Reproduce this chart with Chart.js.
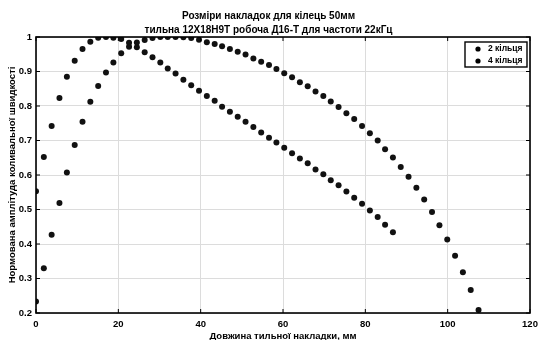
<!DOCTYPE html>
<html>
<head>
<meta charset="utf-8">
<script src="https://cdn.jsdelivr.net/npm/chart.js@4.4.1/dist/chart.umd.min.js"></script>
<style>
    html, body { margin: 0; padding: 0; background: #fff; }
    #wrap { width: 539px; height: 340px; }
</style>
</head>
<body>
<div id="wrap"><canvas id="padChart" width="539" height="340"></canvas></div>
<script>
/* ── Data ──────────────────────────────────────── */
const padLength = [0, 1.9, 3.8, 5.7, 7.5, 9.4, 11.3, 13.2, 15.1, 17.0, 18.8, 20.7, 22.6, 24.5, 26.4, 28.3, 30.2, 32.0,
    33.9, 35.8, 37.7, 39.6, 41.5, 43.4, 45.2, 47.1, 49.0, 50.9, 52.8, 54.7, 56.6, 58.4, 60.3, 62.2, 64.1, 66.0, 67.9,
    69.8, 71.6, 73.5, 75.4, 77.3, 79.2, 81.1, 83.0, 84.8, 86.7, 88.6, 90.5, 92.4, 94.3, 96.2, 98.0, 99.9, 101.8,
    103.7, 105.6, 107.5];

const ampTwoRings = [0.553, 0.652, 0.742, 0.823, 0.885, 0.931, 0.965, 0.986, 0.998, 1.0, 0.998, 0.994, 0.983, 0.970,
    0.956, 0.941, 0.926, 0.909, 0.894, 0.876, 0.860, 0.844, 0.829, 0.815, 0.798, 0.783, 0.769, 0.754, 0.739, 0.723,
    0.708, 0.694, 0.679, 0.663, 0.648, 0.634, 0.616, 0.602, 0.585, 0.570, 0.552, 0.534, 0.517, 0.497, 0.478, 0.456,
    0.434];

const ampFourRings = [0.233, 0.330, 0.427, 0.519, 0.607, 0.687, 0.754, 0.812, 0.858, 0.897, 0.926, 0.953, 0.972, 0.984,
    0.991, 0.997, 1.0, 1.0, 1.0, 0.999, 0.997, 0.992, 0.985, 0.980, 0.973, 0.965, 0.957, 0.949, 0.938, 0.928, 0.919,
    0.907, 0.895, 0.883, 0.869, 0.857, 0.842, 0.829, 0.813, 0.797, 0.779, 0.762, 0.742, 0.721, 0.700, 0.675, 0.651,
    0.623, 0.595, 0.563, 0.529, 0.493, 0.454, 0.413, 0.366, 0.318, 0.267, 0.209];

const seriesNames = ['2 кільця', '4 кільця'];
const xTicks = [0, 20, 40, 60, 80, 100, 120];
const yTicks = [0.2, 0.3, 0.4, 0.5, 0.6, 0.7, 0.8, 0.9, 1];

const titleLines = ['Розміри накладок для кілець 50мм', 'тильна 12Х18Н9Т робоча Д16-Т для частоти 22кГц'];
const xTitle = 'Довжина тильної накладки, мм';
const yTitle = 'Нормована амплітуда коливальної швидкості';

/* ── Helpers ───────────────────────────────────── */
const FONT = '"Liberation Sans", Arial, sans-serif';

function toPoints(values) {
    return values.map((v, i) => ({ x: padLength[i], y: v }));
}

// box round the axes + inward ticks, MATLAB style
const frame = {
    id: 'frame',
    afterDatasetsDraw(chart) {
        const { ctx, chartArea: a, scales } = chart;
        ctx.save();
        ctx.strokeStyle = '#000';
        ctx.lineWidth = 1.6;
        ctx.strokeRect(a.left, a.top, a.right - a.left, a.bottom - a.top);
        ctx.lineWidth = 1;
        xTicks.forEach((t) => {
            const px = scales.x.getPixelForValue(t);
            ctx.beginPath();
            ctx.moveTo(px, a.bottom); ctx.lineTo(px, a.bottom - 4);
            ctx.moveTo(px, a.top); ctx.lineTo(px, a.top + 4);
            ctx.stroke();
        });
        yTicks.forEach((t) => {
            const py = scales.y.getPixelForValue(t);
            ctx.beginPath();
            ctx.moveTo(a.left, py); ctx.lineTo(a.left + 4, py);
            ctx.moveTo(a.right, py); ctx.lineTo(a.right - 4, py);
            ctx.stroke();
        });

        // legend box in the top right corner
        const bx = a.right - 65, by = a.top + 5, bw = 62, bh = 25;
        ctx.fillStyle = '#fff';
        ctx.fillRect(bx, by, bw, bh);
        ctx.lineWidth = 1.4;
        ctx.strokeRect(bx, by, bw, bh);
        ctx.font = 'bold 8.5px ' + FONT;
        ctx.textBaseline = 'middle';
        seriesNames.forEach((name, i) => {
            const cy = by + 7 + i * 12;
            ctx.fillStyle = '#000';
            ctx.beginPath();
            ctx.arc(bx + 13, cy, 2.6, 0, Math.PI * 2);
            ctx.fill();
            ctx.fillText(name, bx + 23, cy);
        });
        ctx.restore();
    },
};

/* ── Chart ─────────────────────────────────────── */
new Chart(document.getElementById('padChart').getContext('2d'), {
    type: 'scatter',
    data: {
        datasets: [{
            label: seriesNames[0],
            data: toPoints(ampTwoRings),
            backgroundColor: '#111',
            borderColor: '#111',
            pointRadius: 3,
            pointBorderWidth: 0,
        }, {
            label: seriesNames[1],
            data: toPoints(ampFourRings),
            backgroundColor: '#111',
            borderColor: '#111',
            pointRadius: 3,
            pointBorderWidth: 0,
        }],
    },
    options: {
        responsive: false,
        animation: false,
        layout: {
            padding: { left: 7, right: 9, top: 0, bottom: 0 },
        },
        plugins: {
            legend: { display: false },
            tooltip: { enabled: false },
            title: {
                display: true,
                text: titleLines,
                color: '#000',
                font: { family: FONT, size: 10, weight: 'bold', lineHeight: 1.4 },
                padding: { top: 9, bottom: 0 },
            },
        },
        scales: {
            x: {
                type: 'linear',
                min: 0,
                max: 120,
                afterBuildTicks: (s) => { s.ticks = xTicks.map((v) => ({ value: v })); },
                afterFit: (s) => {
                    s.height = 27;
                    s.paddingRight = 0;
                    s.paddingLeft = 0;
                },
                grid: { color: '#dcdcdc', lineWidth: 1, drawTicks: false },
                border: { display: false },
                ticks: {
                    color: '#000',
                    padding: 6,
                    maxRotation: 0,
                    font: { family: FONT, size: 9.5, weight: 'bold' },
                },
                title: {
                    display: true,
                    text: xTitle,
                    color: '#000',
                    padding: { top: 0, bottom: -2 },
                    font: { family: FONT, size: 9.5, weight: 'bold' },
                },
            },
            y: {
                min: 0.2,
                max: 1,
                afterBuildTicks: (s) => { s.ticks = yTicks.map((v) => ({ value: v })); },
                afterFit: (s) => { s.width = 29; },
                grid: { color: '#dcdcdc', lineWidth: 1, drawTicks: false },
                border: { display: false },
                ticks: {
                    color: '#000',
                    padding: 4,
                    font: { family: FONT, size: 9.5, weight: 'bold' },
                    callback: (v) => String(+v.toFixed(1)),
                },
                title: {
                    display: true,
                    text: yTitle,
                    color: '#000',
                    padding: { top: 0, bottom: 2 },
                    font: { family: FONT, size: 9.5, weight: 'bold' },
                },
            },
        },
    },
    plugins: [frame],
});
</script>
</body>
</html>
